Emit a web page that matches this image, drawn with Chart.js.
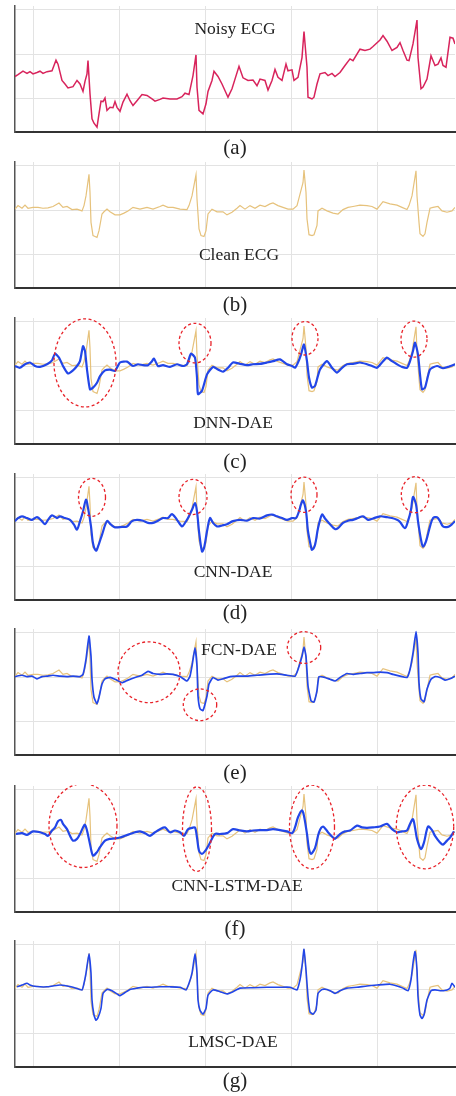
<!DOCTYPE html>
<html>
<head>
<meta charset="utf-8">
<script src="https://cdn.jsdelivr.net/npm/chart.js@4.4.1/dist/chart.umd.min.js"></script>
<style>
  html, body { margin: 0; padding: 0; background: #fff; }
  body { position: relative; width: 456px; height: 1096px; overflow: hidden;
         font-family: "Liberation Serif", "Times New Roman", serif; color: #222; }
  .panel { position: absolute; left: 0; width: 456px; height: 129px; }
  .lbl { position: absolute; transform: translate(-50%, -50%); line-height: 1;
         white-space: nowrap; font-size: 17.5px; }
  .cap { font-size: 21px; }
</style>
</head>
<body>
<script>
// sample positions (x) and amplitudes (y)
const noisyT = [0,3,8,12,15,18,22,25,28,32,37,39,41,43,47,50,53,58,62,65,68,70,72,73,75,77,79,82,84,86,88,90,92,95,98,100,102,105,108,112,115,118,122,127,132,137,140,145,148,155,162,167,170,174,178,181,182,184,188,191,193,197,199,203,207,213,217,220,224,228,233,238,242,245,250,253,257,260,263,267,271,273,277,279,283,287,289,292,293,297,299,302,305,310,313,317,320,325,330,335,338,345,350,355,358,365,368,372,377,382,385,388,392,394,398,402,403,406,408,412,416,420,423,426,428,431,435,438,440];
const noisyV = [-0.51,-0.47,-0.39,-0.44,-0.40,-0.45,-0.42,-0.39,-0.44,-0.40,-0.38,-0.26,-0.14,-0.23,-0.60,-0.68,-0.77,-0.74,-0.60,-0.68,-0.85,-0.62,-0.45,-0.15,-0.90,-1.47,-1.57,-1.66,-1.36,-1.07,-1.08,-1.00,-1.28,-1.21,-1.22,-1.08,-1.21,-1.30,-1.09,-0.91,-1.06,-1.17,-1.06,-0.92,-0.94,-1.02,-1.07,-1.03,-1.00,-1.02,-1.02,-0.97,-0.89,-0.92,-0.49,-0.02,-0.75,-1.28,-1.36,-1.13,-0.85,-0.60,-0.39,-0.51,-0.68,-0.98,-0.79,-0.57,-0.28,-0.54,-0.60,-0.59,-0.72,-0.57,-0.60,-0.82,-0.60,-0.35,-0.53,-0.60,-0.23,-0.38,-0.36,-0.60,-0.53,-0.08,0.51,-0.30,-0.98,-1.02,-0.98,-0.68,-0.45,-0.42,-0.49,-0.44,-0.51,-0.42,-0.26,-0.11,-0.15,0.11,0.08,0.11,0.17,0.32,0.42,0.29,0.08,0.15,0.26,0.08,-0.14,-0.15,0.23,0.77,-0.08,-0.79,-0.75,-0.57,-0.04,-0.26,-0.23,-0.09,-0.26,-0.30,0.38,0.36,0.23];

const cleanT = [0,3,7,10,13,18,23,28,33,38,44,48,52,57,62,67,69,71,74,75,76,78,80,82,84,87,89,92,95,100,105,109,113,118,125,132,138,145,148,153,158,165,172,174,177,181,182,184,186,189,191,193,197,202,208,212,217,222,225,230,235,240,245,250,255,258,263,268,273,278,282,285,288,289,291,292,294,297,299,302,303,307,312,318,323,328,333,338,345,352,357,362,368,375,382,387,392,394,397,401,402,404,405,408,410,412,415,418,423,427,432,437,440];
const cleanV = [0.02,0.10,0.04,0.11,0.04,0.06,0.06,0.04,0.05,0.08,0.16,0.06,0.08,0.01,0.02,-0.02,0.10,0.32,0.81,0.40,-0.28,-0.58,-0.60,-0.62,-0.47,-0.09,-0.04,0.02,-0.04,-0.11,-0.11,-0.07,-0.02,0.06,0.02,0.06,0.02,0.08,0.11,0.06,0.06,0.02,0.01,0.10,0.32,0.80,0.25,-0.43,-0.58,-0.60,-0.47,-0.09,0.02,-0.04,-0.04,-0.11,-0.05,0.04,0.10,0.02,0.10,0.04,0.11,0.08,0.14,0.16,0.10,0.06,0.02,0.02,0.10,0.36,0.62,0.91,0.40,-0.20,-0.56,-0.58,-0.56,-0.35,-0.02,0.04,-0.02,-0.07,-0.09,0.01,0.06,0.08,0.11,0.10,0.08,0.02,0.19,0.14,0.11,0.06,0.01,0.10,0.32,0.89,0.32,-0.28,-0.54,-0.60,-0.54,-0.28,0.04,0.06,0.08,-0.02,-0.05,-0.02,0.06];

const dnnT = [0,5,10,15,20,25,32,37,40,44,48,53,58,62,65,68,70,72,75,78,82,85,90,95,100,105,112,118,123,128,133,137,139,143,148,155,162,168,172,176,180,182,183,187,192,198,203,208,213,218,225,232,238,245,252,258,265,272,277,280,283,286,289,292,294,297,300,305,312,317,322,327,332,338,345,352,357,362,367,372,377,382,387,392,395,398,400,403,405,407,410,415,422,428,433,440];
const dnnV = [0,-0.04,0.04,0.08,0,-0.02,0.04,0.13,0.28,0.19,0,-0.17,-0.10,0,0.11,0.45,0.34,-0.08,-0.53,-0.49,-0.38,-0.23,-0.10,-0.08,-0.11,0.08,0.10,0,0.04,0.02,0.02,0.11,0.17,0,0.02,-0.02,0.04,0,0.04,0.28,0.19,-0.26,-0.64,-0.56,-0.19,-0.02,-0.08,-0.13,-0.04,0.08,0.05,0.02,0.04,0.05,0.08,0.11,0.15,0.04,0,-0.04,0.08,0.26,0.49,0.11,-0.26,-0.49,-0.45,-0.08,0.11,-0.04,-0.15,-0.04,0.04,0.05,0.08,0.04,0,-0.04,0.08,0.19,0.11,0.04,-0.02,-0.04,0.11,0.34,0.53,0.26,-0.19,-0.53,-0.49,-0.08,0,-0.05,-0.02,0.04];

const cnnT = [0,3,7,12,17,22,27,30,33,37,42,45,50,55,59,62,65,68,71,73,76,78,81,83,87,92,96,100,107,112,117,122,128,133,138,143,148,153,157,162,167,170,173,177,180,182,184,187,189,192,195,198,202,207,212,218,225,232,238,245,252,257,262,267,272,277,281,284,286,288,291,293,296,297,300,303,307,310,315,320,323,328,333,338,343,348,353,358,365,372,377,382,385,390,393,396,398,401,403,406,408,411,415,418,422,425,428,433,437,440];
const cnnV = [0.02,0.09,0.13,0.09,0.05,0.11,0.02,-0.05,0.05,0.15,0.09,0.13,0.09,0.05,-0.06,-0.17,0.02,0.24,0.51,0.32,-0.10,-0.48,-0.65,-0.56,-0.29,0.02,-0.06,-0.12,-0.11,-0.10,0.02,0.05,0.03,-0.02,-0.02,0.03,0.09,0.09,0.18,0.05,-0.10,-0.02,0.09,0.28,0.43,0.24,-0.21,-0.67,-0.59,-0.21,0.09,-0.02,-0.10,-0.08,-0.05,0.02,0.05,0.03,0.09,0.08,0.15,0.17,0.13,0.09,0.05,0.09,0.09,0.24,0.40,0.49,0.24,-0.21,-0.56,-0.63,-0.52,-0.14,0.17,0.08,-0.05,-0.16,-0.14,-0.02,0.03,0.05,0.09,0.13,0.05,0.08,0.13,0.11,0.09,0.05,0,-0.14,0.02,0.28,0.57,0.40,0.02,-0.40,-0.56,-0.44,-0.10,0.09,0.11,0.02,-0.10,-0.11,-0.05,0.02];

const fcnT = [0,7,12,17,22,27,32,38,45,52,58,65,68,71,74,76,77,79,82,84,87,90,95,100,107,113,120,127,133,138,145,152,158,165,172,175,177,180,182,183,185,188,192,194,198,203,208,215,222,232,242,252,262,272,280,283,287,289,291,293,296,299,302,304,310,315,320,325,332,338,345,352,358,365,372,378,385,392,395,398,401,403,404,406,409,412,416,420,425,430,435,440];
const fcnV = [0.01,0.04,0.01,0.02,-0.04,0.01,0.02,0.04,0.02,0.01,0.02,0.01,0.06,0.40,0.93,0.47,-0.05,-0.46,-0.61,-0.46,-0.16,-0.04,-0.01,-0.05,-0.13,-0.07,-0.01,0.04,0.13,0.08,0.06,0.07,0.06,0.01,-0.09,0.02,0.25,0.66,0.25,-0.43,-0.72,-0.76,-0.43,-0.16,-0.01,-0.07,-0.04,0.01,0.02,0.02,0.04,0.06,0.07,0.04,0.02,0.17,0.47,0.68,0.47,-0.20,-0.54,-0.57,-0.31,0.01,-0.01,-0.05,-0.09,-0.01,0.08,0.06,0.08,0.10,0.10,0.11,0.10,0.06,0.02,-0.01,0.17,0.54,1.03,0.54,-0.13,-0.50,-0.56,-0.28,-0.05,0.01,-0.01,-0.07,-0.04,0.02];

const lstmT = [1,7,12,18,25,30,33,37,40,43,46,48,52,55,58,62,65,68,70,72,75,78,82,85,90,95,100,105,110,115,120,125,130,135,140,145,150,155,160,165,169,173,177,180,182,184,187,190,194,200,205,212,218,225,232,238,245,252,258,265,272,277,280,283,287,289,292,294,296,300,304,308,313,318,320,325,330,335,342,347,352,358,365,372,377,382,387,392,395,398,400,402,406,409,413,417,420,425,428,432,435,439];
const lstmV = [0,0.02,-0.02,0.06,0.04,0,-0.04,0.08,0.15,0.29,0.32,0.23,0.11,-0.04,-0.15,-0.11,0,0.15,0.21,0.08,-0.23,-0.49,-0.41,-0.30,-0.15,-0.11,-0.10,-0.08,-0.04,0,0.04,0.06,0.02,-0.04,0.04,0.11,0.15,0.04,0.08,0.04,-0.04,0.11,0.14,0.15,-0.08,-0.38,-0.45,-0.39,-0.24,0,0,0.02,0.11,0.08,0.06,0.08,0.09,0.09,0.11,0.09,0.06,0.02,0.15,0.38,0.54,0.41,0,-0.34,-0.45,-0.32,0.04,0.17,0.04,-0.08,-0.11,0,0.06,0.08,0.19,0.15,0.14,0.15,0.17,0.23,0.11,0.04,0.06,0.08,0.23,0.34,0.15,-0.11,-0.34,-0.19,0.17,0.09,-0.04,-0.19,-0.24,-0.15,-0.08,0.06];

const lmscT = [2,7,12,15,18,25,32,38,45,52,58,67,69,71,74,76,77,79,81,83,86,88,92,97,102,105,110,115,122,128,135,145,155,165,171,174,177,180,182,183,185,188,191,193,198,205,212,218,225,238,252,265,275,282,285,287,289,291,293,295,298,301,303,307,312,317,320,325,332,342,352,362,375,382,388,393,396,398,400,402,403,405,407,409,412,416,420,425,432,435,437,440];
const lmscV = [0.05,0.09,0.13,0.09,0.07,0.05,0.05,0.07,0.09,0.07,0.04,-0.02,0.13,0.36,0.80,0.36,-0.25,-0.59,-0.71,-0.65,-0.44,-0.10,-0.01,-0.04,-0.11,-0.15,-0.08,-0.01,0.02,0.04,0.04,0.05,0.05,0.04,-0.02,0.13,0.36,0.80,0.36,-0.25,-0.48,-0.57,-0.44,-0.14,-0.02,-0.06,-0.11,-0.06,0.02,0.03,0.04,0.04,0.04,-0.02,0.21,0.51,0.90,0.43,-0.17,-0.52,-0.57,-0.48,-0.10,-0.01,-0.01,-0.06,-0.10,-0.04,0.02,0.04,0.07,0.09,0.11,0.07,0.02,-0.04,0.21,0.59,0.85,0.43,-0.17,-0.59,-0.67,-0.59,-0.25,-0.04,-0.02,-0.04,-0.02,0.02,0.13,0.04];

// highlighted regions: [x, y, half-width, half-height] in data units
const dnnMarks  = [[70, 0.07, 31, 1.0], [180, 0.52, 16, 0.45], [290, 0.63, 13, 0.38], [399, 0.61, 13, 0.41]];
const cnnMarks  = [[77, 0.56, 13.5, 0.43], [178, 0.57, 14, 0.40], [289, 0.62, 13, 0.40], [400, 0.62, 13.7, 0.41]];
const fcnMarks  = [[134, 0.11, 31, 0.69], [185, -0.63, 16.7, 0.36], [289, 0.67, 16.7, 0.36]];
const lstmMarks = [[68, 0.19, 34, 0.95], [182, 0.11, 14.5, 0.96], [297, 0.16, 22.5, 0.95], [410, 0.16, 28.7, 0.95]];

const xGrid = [18, 104, 190, 276, 362];
const yGrid = [-1, 0, 1];

const RED = '#d8245c';
const GOLD = '#e6c27c';
const BLUE = '#2246e8';

const ellipsePlugin = {
  id: 'ellipses',
  afterDatasetsDraw(chart, args, opts) {
    const items = opts.items || [];
    if (!items.length) return;
    const { ctx, scales: { x, y } } = chart;
    ctx.save();
    ctx.strokeStyle = '#e8232a';
    ctx.lineWidth = 1.3;
    ctx.setLineDash([3, 2.5]);
    items.forEach(([cx, cy, rx, ry]) => {
      const px = x.getPixelForValue(cx);
      const py = y.getPixelForValue(cy);
      const rpx = Math.abs(x.getPixelForValue(cx + rx) - px);
      const rpy = Math.abs(y.getPixelForValue(cy + ry) - py);
      ctx.beginPath();
      ctx.ellipse(px, py, rpx, rpy, 0, 0, Math.PI * 2);
      ctx.stroke();
    });
    ctx.restore();
  }
};

function series(t, v, color, width, tension) {
  return {
    data: t.map((x, i) => ({ x, y: v[i] })),
    borderColor: color,
    borderWidth: width,
    pointRadius: 0,
    fill: false,
    tension: tension || 0,
  };
}

const panels = [
  { top: 5,   sets: [series(noisyT, noisyV, RED, 1.5)], marks: [],
    label: 'Noisy ECG', lx: 235, ly: 28.5, cap: '(a)', cy: 147 },
  { top: 161, sets: [series(cleanT, cleanV, GOLD, 1.2)], marks: [],
    label: 'Clean ECG', lx: 239, ly: 255, cap: '(b)', cy: 304 },
  { top: 317, sets: [series(dnnT, dnnV, BLUE, 2.2, 0.2), series(cleanT, cleanV, GOLD, 1.2)], marks: dnnMarks,
    label: 'DNN-DAE', lx: 233, ly: 423, cap: '(c)', cy: 461 },
  { top: 473, sets: [series(cnnT, cnnV, BLUE, 2.2, 0.3), series(cleanT, cleanV, GOLD, 1.2)], marks: cnnMarks,
    label: 'CNN-DAE', lx: 233, ly: 572, cap: '(d)', cy: 612 },
  { top: 628, sets: [series(fcnT, fcnV, BLUE, 1.7, 0.15), series(cleanT, cleanV, GOLD, 1.2)], marks: fcnMarks,
    label: 'FCN-DAE', lx: 239, ly: 649.5, cap: '(e)', cy: 772 },
  { top: 785, sets: [series(lstmT, lstmV, BLUE, 2.2, 0.3), series(cleanT, cleanV, GOLD, 1.2)], marks: lstmMarks,
    label: 'CNN-LSTM-DAE', lx: 237, ly: 885.5, cap: '(f)', cy: 928 },
  { top: 940, sets: [series(lmscT, lmscV, BLUE, 1.6, 0.15), series(cleanT, cleanV, GOLD, 1.2)], marks: [],
    label: 'LMSC-DAE', lx: 233, ly: 1042, cap: '(g)', cy: 1080 },
];

function addText(text, x, y, cls) {
  const d = document.createElement('div');
  d.className = cls;
  d.textContent = text;
  d.style.left = x + 'px';
  d.style.top = y + 'px';
  document.body.appendChild(d);
}

panels.forEach(p => {
  const wrap = document.createElement('div');
  wrap.className = 'panel';
  wrap.style.top = p.top + 'px';
  const canvas = document.createElement('canvas');
  canvas.width = 456;
  canvas.height = 129;
  wrap.appendChild(canvas);
  document.body.appendChild(wrap);

  new Chart(canvas.getContext('2d'), {
    type: 'line',
    data: { datasets: p.sets },
    plugins: [ellipsePlugin],
    options: {
      responsive: false,
      animation: false,
      layout: { padding: { left: 15, right: 1, top: 1, bottom: 2 } },
      plugins: {
        legend: { display: false },
        tooltip: { enabled: false },
        ellipses: { items: p.marks },
      },
      scales: {
        x: {
          type: 'linear', min: 0, max: 440,
          afterBuildTicks: s => { s.ticks = xGrid.map(v => ({ value: v })); },
          afterFit: s => { s.height = 0; },
          ticks: { display: false },
          grid: { color: '#e3e3e3', lineWidth: 1, drawTicks: false },
          border: { display: true, color: '#333', width: 2 },
        },
        y: {
          min: -1.77, max: 1.09,
          afterBuildTicks: s => { s.ticks = yGrid.map(v => ({ value: v })); },
          afterFit: s => { s.width = 0; },
          ticks: { display: false },
          grid: { color: '#e3e3e3', lineWidth: 1, drawTicks: false },
          border: { display: true, color: '#555', width: 1.5 },
        },
      },
    },
  });

  addText(p.label, p.lx, p.ly, 'lbl');
  addText(p.cap, 235, p.cy, 'lbl cap');
});
</script>
</body>
</html>
